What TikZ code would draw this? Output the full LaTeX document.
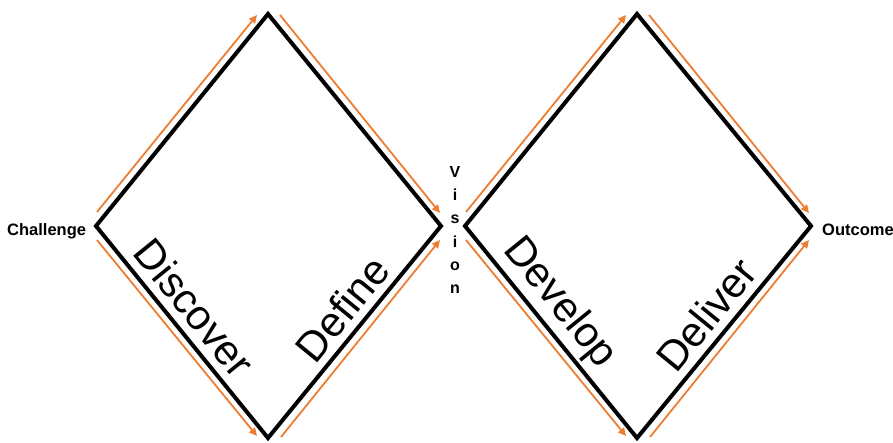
\documentclass[tikz,border=0pt]{standalone}
\usepackage{fontspec}
\setmainfont{Liberation Sans}
\usetikzlibrary{arrows.meta}
\definecolor{arroworange}{RGB}{237,125,49}
\tikzset{
  diamondline/.style={draw=black, line width=4pt, line join=miter},
  flowarrow/.style={draw=arroworange, line width=1.8pt, -{Triangle[length=8pt,width=7.5pt]}},
  phase/.style={font=\fontsize{42}{50}\selectfont, inner sep=0pt, anchor=base},
  endlabel/.style={font=\fontsize{16.5}{20}\selectfont\bfseries, inner sep=0pt},
}
\begin{document}
\begin{tikzpicture}[x=1pt,y=-1pt]
\useasboundingbox (0,0) rectangle (893,442);
% diamond corners
\coordinate (L1) at (96,226);
\coordinate (T1) at (268,14);
\coordinate (R1) at (441,226);
\coordinate (B1) at (268,438);
\coordinate (L2) at (465,226);
\coordinate (T2) at (637,14);
\coordinate (R2) at (811,226);
\coordinate (B2) at (637,438);
\draw[diamondline] (L1) -- (T1) -- (R1) -- (B1) -- cycle;
\draw[diamondline] (L2) -- (T2) -- (R2) -- (B2) -- cycle;
% arrow end points
\coordinate (a1s) at (97,212);  \coordinate (a1e) at (257,15);
\coordinate (a2s) at (280,15);  \coordinate (a2e) at (440,213);
\coordinate (a3s) at (97,240);  \coordinate (a3e) at (257,436);
\coordinate (a4s) at (281,437); \coordinate (a4e) at (440,240);
\coordinate (b1s) at (466,212); \coordinate (b1e) at (626,15);
\coordinate (b2s) at (649,15);  \coordinate (b2e) at (809,213);
\coordinate (b3s) at (466,240); \coordinate (b3e) at (626,436);
\coordinate (b4s) at (650,437); \coordinate (b4e) at (809,240);
\draw[flowarrow] (a1s) -- (a1e);
\draw[flowarrow] (a2s) -- (a2e);
\draw[flowarrow] (a3s) -- (a3e);
\draw[flowarrow] (a4s) -- (a4e);
\draw[flowarrow] (b1s) -- (b1e);
\draw[flowarrow] (b2s) -- (b2e);
\draw[flowarrow] (b3s) -- (b3e);
\draw[flowarrow] (b4s) -- (b4e);
% phase labels
\node[phase, rotate=-50.9] (discover) at (183,317) {Discover};
\node[phase, rotate=50.8] (define) at (354,318) {Define};
\node[phase, rotate=-50.9] (develop) at (551,310) {Develop};
\node[phase, rotate=50.8] (deliver) at (718,324) {Deliver};
% end labels
\node[endlabel, anchor=base west] (challenge) at (7,235) {Challenge};
\node[endlabel, anchor=base west] (outcome) at (822,235) {Outcome};
\node[endlabel, align=center, font=\fontsize{16}{23.3}\selectfont\bfseries] (vision) at (455,230) {V\\i\\s\\i\\o\\n};
\end{tikzpicture}
\end{document}
